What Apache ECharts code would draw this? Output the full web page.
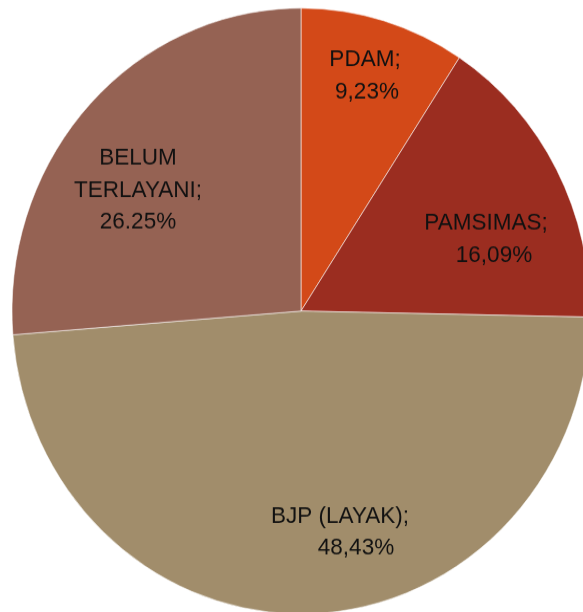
<!DOCTYPE html>
<html>
<head>
<meta charset="utf-8">
<script src="https://cdn.jsdelivr.net/npm/echarts@6/dist/echarts.min.js"></script>
<style>
html,body{margin:0;padding:0;background:#ffffff;overflow:hidden;}
#wrap{width:583px;height:612px;position:relative;overflow:hidden;}
#chart{width:583px;height:584px;transform-origin:0 0;transform:scaleY(1.048);}
</style>
</head>
<body>
<div id="wrap"><div id="chart"></div></div>
<script>
// Data
const categories = ['PDAM', 'PAMSIMAS', 'BJP (LAYAK)', 'BELUM TERLAYANI'];
const values = [9.23, 16.09, 48.43, 26.25];
const valueLabels = ['9,23%', '16,09%', '48,43%', '26.25%'];
const nameLabels = ['PDAM;', 'PAMSIMAS;', 'BJP (LAYAK);', 'BELUM\nTERLAYANI;'];
const colors = ['#d34918', '#9b2d20', '#a18d6b', '#956253'];

// Layout (screen coords of label line-1 centre x, block centre y)
const SY = 1.048;
const labelPos = [[365, 76], [486, 239], [340, 532], [138, 190]];
const secondLineShift = [4, 16, 32, 0];

const chart = echarts.init(document.getElementById('chart'), null, {renderer: 'canvas'});
const font = '"Liberation Sans", Arial, sans-serif';
const FS = 22.5;

const data = categories.map((c, i) => ({
  name: c,
  value: values[i],
  itemStyle: {color: colors[i]},
  label: {
    formatter: nameLabels[i].split('\n').map(s => '{a|' + s + '}').join('\n') + '\n{b|' + valueLabels[i] + '}',
    rich: {
      a: {fontSize: FS, lineHeight: 30.5, color: '#111', fontFamily: font},
      b: {fontSize: FS, lineHeight: 30.5, color: '#111', fontFamily: font, padding: [0, 0, 0, secondLineShift[i]]}
    }
  }
}));

chart.setOption({
  backgroundColor: 'transparent',
  animation: false,
  series: [{
    type: 'pie',
    center: [301, 311 / SY],
    radius: 289,
    startAngle: 90,
    clockwise: true,
    data: data,
    itemStyle: {borderColor: 'rgba(255,255,255,0.55)', borderWidth: 1},
    label: {show: true, position: 'inside', align: 'center', fontSize: FS, fontFamily: font},
    labelLine: {show: false},
    emphasis: {disabled: true},
    labelLayout: function (p) {
      const pos = labelPos[p.dataIndex];
      return {x: pos[0], y: pos[1] / SY, align: 'center', verticalAlign: 'middle'};
    }
  }]
});
</script>
</body>
</html>
